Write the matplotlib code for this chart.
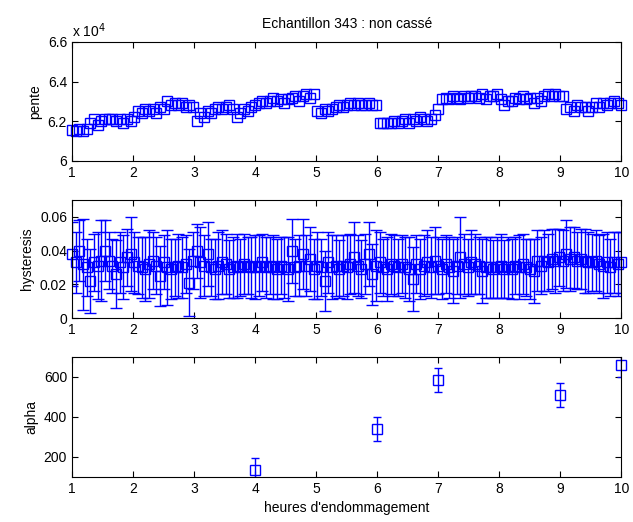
import numpy as np
import matplotlib.pyplot as plt

plt.rcParams['font.family'] = ['Liberation Sans', 'DejaVu Sans']
plt.rcParams['font.size'] = 10

# pente, in units of 1e4
pente = [6.155, 6.15, 6.16, 6.15, 6.16, 6.19, 6.21, 6.18, 6.20, 6.21,
         6.21, 6.21, 6.20, 6.21, 6.19, 6.21, 6.20, 6.22, 6.25, 6.24,
         6.26, 6.25, 6.26, 6.24, 6.27, 6.26, 6.30, 6.28, 6.29, 6.28,
         6.29, 6.27, 6.28, 6.27, 6.20, 6.24, 6.22, 6.25, 6.24, 6.26,
         6.27, 6.26, 6.27, 6.28, 6.26, 6.22, 6.24, 6.26, 6.25, 6.27,
         6.28, 6.29, 6.30, 6.29, 6.30, 6.32, 6.30, 6.31, 6.29, 6.31,
         6.32, 6.33, 6.30, 6.33, 6.34, 6.32, 6.34, 6.25, 6.24, 6.26,
         6.25, 6.26, 6.27, 6.28, 6.27, 6.28, 6.29, 6.28, 6.29, 6.28,
         6.28, 6.29, 6.28, 6.28, 6.19, 6.19, 6.19, 6.19, 6.20, 6.19,
         6.20, 6.21, 6.19, 6.21, 6.20, 6.22, 6.21, 6.20, 6.21, 6.23,
         6.26, 6.31, 6.32, 6.31, 6.33, 6.32, 6.31, 6.33, 6.32, 6.33,
         6.33, 6.32, 6.34, 6.31, 6.33, 6.33, 6.34, 6.31, 6.28, 6.30,
         6.30, 6.32, 6.31, 6.33, 6.31, 6.32, 6.29, 6.32, 6.30, 6.33,
         6.34, 6.33, 6.34, 6.33, 6.33, 6.26, 6.27, 6.25, 6.28, 6.27,
         6.27, 6.25, 6.27, 6.29, 6.27, 6.29, 6.28, 6.29, 6.30, 6.29,
         6.28]

hyst = [0.038, 0.033, 0.040, 0.032, 0.030, 0.022, 0.033, 0.031, 0.034, 0.040,
        0.034, 0.031, 0.026, 0.033, 0.030, 0.036, 0.038, 0.033, 0.031, 0.030,
        0.029, 0.032, 0.034, 0.031, 0.025, 0.033, 0.030, 0.029, 0.030, 0.031,
        0.030, 0.032, 0.021, 0.034, 0.040, 0.033, 0.031, 0.038, 0.030, 0.029,
        0.031, 0.033, 0.032, 0.029, 0.030, 0.031, 0.030, 0.032, 0.031, 0.030,
        0.030, 0.031, 0.033, 0.030, 0.031, 0.030, 0.029, 0.031, 0.030, 0.029,
        0.040, 0.030, 0.031, 0.038, 0.031, 0.035, 0.029, 0.031, 0.030, 0.022,
        0.033, 0.030, 0.031, 0.029, 0.031, 0.030, 0.032, 0.036, 0.031, 0.029,
        0.032, 0.038, 0.026, 0.031, 0.033, 0.030, 0.029, 0.032, 0.031, 0.030,
        0.032, 0.030, 0.029, 0.023, 0.032, 0.029, 0.031, 0.033, 0.030, 0.034,
        0.031, 0.029, 0.032, 0.030, 0.028, 0.031, 0.036, 0.032, 0.030, 0.033,
        0.032, 0.031, 0.028, 0.030, 0.030, 0.029, 0.030, 0.031, 0.029, 0.030,
        0.029, 0.031, 0.030, 0.032, 0.030, 0.029, 0.028, 0.034, 0.031, 0.034,
        0.033, 0.035, 0.034, 0.036, 0.034, 0.038, 0.035, 0.036, 0.034, 0.035,
        0.034, 0.033, 0.033, 0.034, 0.032, 0.031, 0.033, 0.030, 0.033, 0.032,
        0.033]

hyst_err = [0.019, 0.018, 0.018, 0.027, 0.017, 0.019, 0.017, 0.020, 0.024, 0.018,
            0.017, 0.016, 0.020, 0.018, 0.019, 0.017, 0.022, 0.018, 0.017, 0.018,
            0.019, 0.020, 0.017, 0.017, 0.018, 0.016, 0.022, 0.018, 0.017, 0.019,
            0.018, 0.017, 0.020, 0.017, 0.016, 0.021, 0.018, 0.019, 0.017, 0.018,
            0.020, 0.019, 0.018, 0.017, 0.018, 0.019, 0.017, 0.018, 0.017, 0.018,
            0.019, 0.018, 0.017, 0.018, 0.017, 0.019, 0.018, 0.017, 0.018, 0.019,
            0.019, 0.017, 0.018, 0.021, 0.018, 0.019, 0.018, 0.020, 0.017, 0.018,
            0.018, 0.019, 0.018, 0.017, 0.018, 0.019, 0.018, 0.021, 0.018, 0.017,
            0.018, 0.019, 0.018, 0.021, 0.018, 0.017, 0.019, 0.018, 0.018, 0.017,
            0.017, 0.018, 0.019, 0.019, 0.017, 0.018, 0.018, 0.019, 0.018, 0.020,
            0.017, 0.018, 0.017, 0.018, 0.019, 0.017, 0.024, 0.018, 0.017, 0.019,
            0.018, 0.017, 0.019, 0.018, 0.018, 0.017, 0.018, 0.019, 0.017, 0.018,
            0.018, 0.017, 0.019, 0.018, 0.017, 0.018, 0.019, 0.018, 0.017, 0.018,
            0.017, 0.018, 0.019, 0.017, 0.018, 0.020, 0.019, 0.018, 0.017, 0.018,
            0.019, 0.018, 0.017, 0.018, 0.017, 0.019, 0.018, 0.017, 0.018, 0.019,
            0.018]

heures = [4, 6, 7, 9, 10]
alpha = [135, 340, 585, 510, 660]
alpha_err = [60, 62, 60, 60, 60]

t = np.linspace(1, 10, len(pente))

fig = plt.figure(figsize=(6.33, 5.22), dpi=100)
ax1 = fig.add_axes([0.1137, 0.6916, 0.868, 0.228])
ax2 = fig.add_axes([0.1137, 0.3908, 0.868, 0.226])
ax3 = fig.add_axes([0.1137, 0.0862, 0.868, 0.230])

ax1.plot(t, pente, 's', color='b', mfc='none', ms=7, mew=1, clip_on=False)
ax1.set_ylim(6.0, 6.6)
ax1.set_yticks([6.0, 6.2, 6.4, 6.6])
ax1.set_yticklabels(['6', '6.2', '6.4', '6.6'])
ax1.set_ylabel('pente')
ax1.text(0, 1.02, r'x 10$^4$', transform=ax1.transAxes, ha='left', va='bottom')
ax1.set_title("Echantillon 343 : non cassé", fontsize=10, pad=10)

ax2.errorbar(t, hyst, yerr=hyst_err, fmt='none', ecolor='b',
             elinewidth=1, capsize=4)
ax2.plot(t, hyst, 's', color='b', mfc='none', ms=7, mew=1, clip_on=False)
ax2.set_ylim(0, 0.07)
ax2.set_yticks([0, 0.02, 0.04, 0.06])
ax2.set_yticklabels(['0', '0.02', '0.04', '0.06'])
ax2.set_ylabel('hysteresis')

ax3.errorbar(heures, alpha, yerr=alpha_err, fmt='none', ecolor='b',
             elinewidth=1, capsize=3)
ax3.plot(heures, alpha, 's', color='b', mfc='none', ms=7, mew=1, clip_on=False)
ax3.set_ylim(100, 700)
ax3.set_yticks([200, 400, 600])
ax3.set_ylabel('alpha')
ax3.set_xlabel("heures d'endommagement")

for ax in (ax1, ax2, ax3):
    ax.set_xlim(1, 10)
    ax.set_xticks(range(1, 11))
    ax.tick_params(direction='in', top=True, right=True, length=4, labelsize=10)

plt.savefig('out.png', dpi=100)
